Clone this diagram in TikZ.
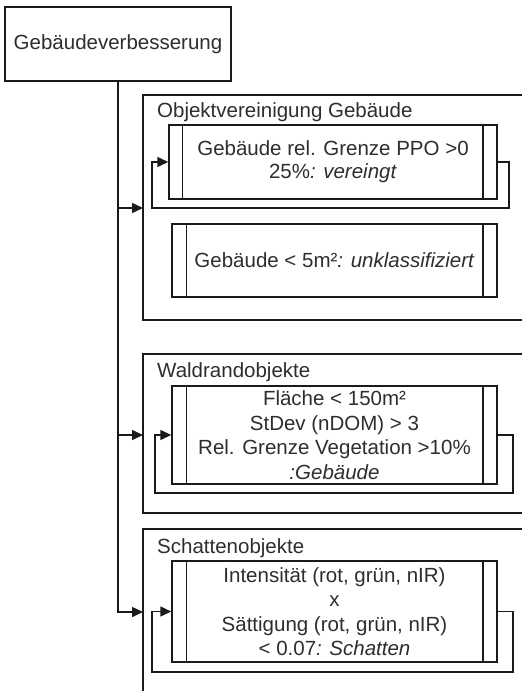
\documentclass[tikz,border=0pt]{standalone}
\usepackage{fontspec}
\setmainfont{Liberation Sans}
\usetikzlibrary{arrows.meta,calc}
\definecolor{ln}{HTML}{1A1A1A}
\definecolor{tx}{HTML}{2E2E2E}
\begin{document}
\begin{tikzpicture}[x=1pt,y=-1pt,
  every node/.style={font=\fontsize{20.5}{24.5}\selectfont, text=tx},
  lw/.style={draw=ln, line width=1.5pt},
  box/.style={lw, rectangle, inner sep=0pt, align=center},
  grp/.style={draw=none, rectangle, inner sep=0pt},
  ttl/.style={anchor=west, inner sep=0pt},
  arr/.style={lw, -{Triangle[length=11pt,width=10pt]}},
  loopline/.style={lw, -{Triangle[length=11pt,width=10pt]}}
]
\useasboundingbox (0,0) rectangle (522,691);
\fill[white] (0,0) rectangle (522,691);

% top node
\node[box, minimum width=226pt, minimum height=74pt] (top) at (118,44) {Gebäudeverbesserung};

% groups
\node[grp, minimum width=379pt, minimum height=225pt] (g1) at (332.5,207.5) {};
\node[grp, minimum width=379pt, minimum height=159pt] (g2) at (332.5,433.5) {};
\node[grp, minimum width=379pt, minimum height=171pt] (g3) at (332.5,614.5) {};
\draw[lw] (g1.north east) -- (g1.north west) -- (g1.south west) -- (g1.south east);
\draw[lw] (g2.north east) -- (g2.north west) -- (g2.south west) -- (g2.south east);
\draw[lw] (g3.north east) -- (g3.north west) -- (g3.south west);

\node[ttl] (t1) at (157,112) {Objektvereinigung Gebäude};
\node[ttl] (t2) at (157,372) {Waldrandobjekte};
\node[ttl] (t3) at (157,548) {Schattenobjekte};

% process boxes
\node[box, minimum width=328pt, minimum height=74pt] (b1) at (333,162)
  {Gebäude rel. Grenze PPO >0\\[-1.5pt]25\%\textit{: vereingt}};
\node[box, minimum width=325pt, minimum height=73pt] (b2) at (334.5,260.5)
  {Gebäude < 5m²\textit{: unklassifiziert}};
\node[box, minimum width=325pt, minimum height=98pt] (b3) at (334.5,435)
  {Fläche < 150m²\\StDev (nDOM) > 3\\Rel. Grenze Vegetation >10\%\\\textit{:Gebäude}};
\node[box, minimum width=325pt, minimum height=101pt] (b4) at (334.5,611.5)
  {Intensität (rot, grün, nIR)\\x\\Sättigung (rot, grün, nIR)\\< 0.07\textit{: Schatten}};

\draw[lw] ([xshift=14pt]b1.north west) -- ([xshift=14pt]b1.south west);
\draw[lw] ([xshift=-15pt]b1.north east) -- ([xshift=-15pt]b1.south east);
\foreach \b in {b2,b3,b4}{
  \draw[lw] ([xshift=15pt]\b.north west) -- ([xshift=15pt]\b.south west);
  \draw[lw] ([xshift=-15pt]\b.north east) -- ([xshift=-15pt]\b.south east);
}

% loops
\coordinate (l1a) at (509,208);
\coordinate (l1b) at (152,208);
\draw[loopline] (b1.east) -| (l1a) -- (l1b) |- (b1.west);
\coordinate (l3a) at (513,493);
\coordinate (l3b) at (155,493);
\draw[loopline] (b3.east) -| (l3a) -- (l3b) |- (b3.west);
\coordinate (l4a) at (513,672);
\coordinate (l4b) at (152,672);
\draw[loopline] (b4.east) -| (l4a) -- (l4b) |- (b4.west);

% trunk and entry arrows
\coordinate (g1in) at (143,208);
\coordinate (g2in) at (143,435);
\coordinate (g3in) at (143,612);
\draw[arr] (top.south) |- (g3in);
\draw[arr] (top.south |- g1in) -- (g1in);
\draw[arr] (top.south |- g2in) -- (g2in);
\end{tikzpicture}
\end{document}
